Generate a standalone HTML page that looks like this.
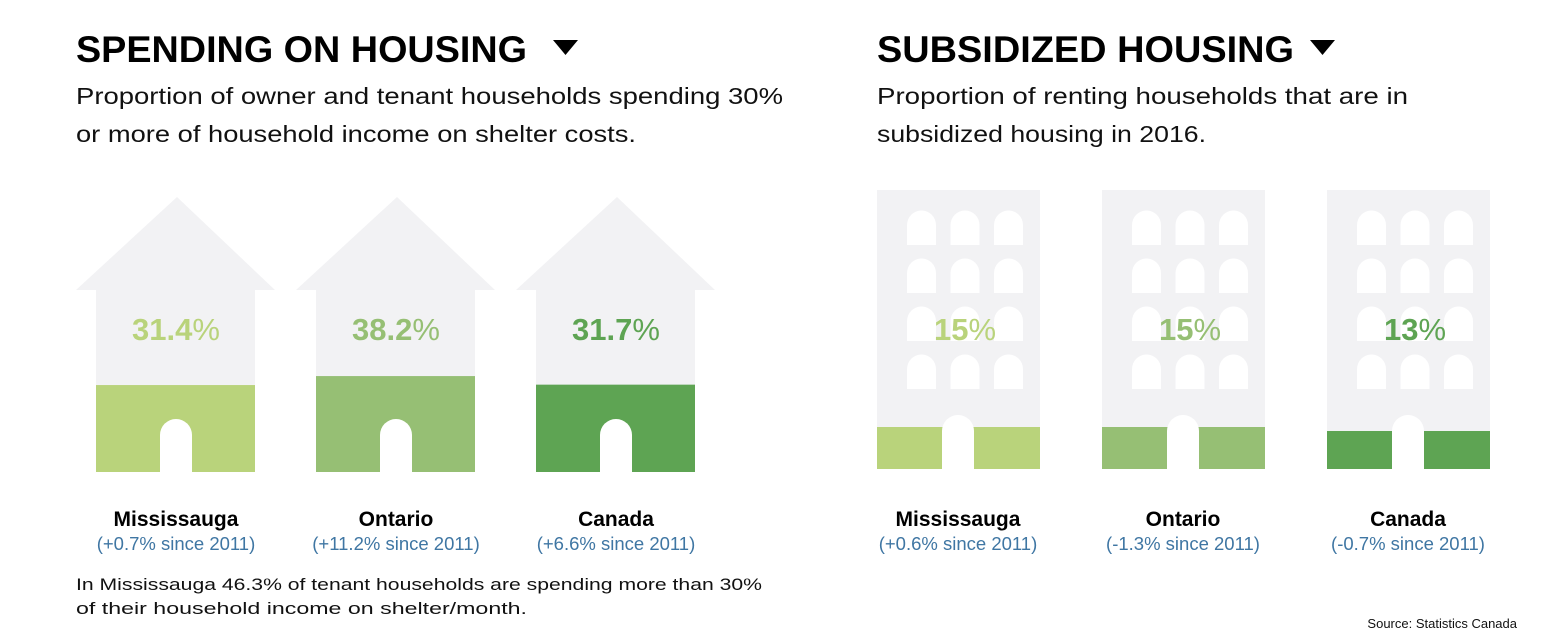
<!DOCTYPE html>
<html><head><meta charset="utf-8"><style>
html,body{margin:0;padding:0;background:#fff;width:1564px;height:630px;overflow:hidden}
svg{display:block;font-family:"Liberation Sans",sans-serif}
</style></head><body>
<svg id="c" width="1564" height="630" viewBox="0 0 1564 630">
<text x="76" y="62" font-size="37" font-weight="bold" textLength="451" lengthAdjust="spacingAndGlyphs" fill="#000">SPENDING ON HOUSING</text>
<polygon points="553,40 578,40 565.5,55" fill="#000"/>
<text x="76" y="104" font-size="23" textLength="707" lengthAdjust="spacingAndGlyphs" fill="#111">Proportion of owner and tenant households spending 30%</text>
<text x="76" y="142" font-size="23" textLength="560" lengthAdjust="spacingAndGlyphs" fill="#111">or more of household income on shelter costs.</text>
<text x="877" y="62" font-size="37" font-weight="bold" textLength="417" lengthAdjust="spacingAndGlyphs" fill="#000">SUBSIDIZED HOUSING</text>
<polygon points="1310,40 1335,40 1322.5,55" fill="#000"/>
<text x="877" y="104" font-size="23" textLength="531" lengthAdjust="spacingAndGlyphs" fill="#111">Proportion of renting households that are in</text>
<text x="877" y="142" font-size="23" textLength="329" lengthAdjust="spacingAndGlyphs" fill="#111">subsidized housing in 2016.</text>
<text x="76" y="590" font-size="17" textLength="686" lengthAdjust="spacingAndGlyphs" fill="#111">In Mississauga 46.3% of tenant households are spending more than 30%</text>
<text x="76" y="614" font-size="17" textLength="451" lengthAdjust="spacingAndGlyphs" fill="#111">of their household income on shelter/month.</text>
<text x="1517" y="628" font-size="13" text-anchor="end" fill="#111">Source: Statistics Canada</text>
</svg>
<script>
const regions = ["Mississauga","Ontario","Canada"];
const spendValues = [31.4, 38.2, 31.7];
const spendLabels = ["31.4","38.2","31.7"];
const spendChange = ["(+0.7% since 2011)","(+11.2% since 2011)","(+6.6% since 2011)"];
const subsValues = [15, 15, 13];
const subsLabels = ["15","15","13"];
const subsChange = ["(+0.6% since 2011)","(-1.3% since 2011)","(-0.7% since 2011)"];
const colors = ["#b9d37b","#96bf74","#5ea453"];

const NS="http://www.w3.org/2000/svg", svg=document.getElementById('c');
function el(t,a,txt){const e=document.createElementNS(NS,t);for(const k in a)e.setAttribute(k,a[k]);if(txt!==undefined)e.textContent=txt;svg.appendChild(e);return e;}
const GRAY="#f2f2f4", BLUE="#3f76a3";
function houseFill(v){return 45.5+1.32*v;}
function bldgFill(v){return 12+2*v;}

regions.forEach((r,i)=>{
  const x0=96+i*220, cx=x0+80, bottom=472;
  let e=el('polygon',{points:`${x0-20},290 ${cx+1},197 ${x0+179},290 ${x0+159},290 ${x0+159},${bottom} ${x0},${bottom} ${x0},290`,fill:GRAY});
  
  
  const h=houseFill(spendValues[i]);
  e=el('rect',{x:x0,y:bottom-h,width:159,height:h,fill:colors[i]});
  
  
  e=el('path',{d:`M${cx-16},${bottom} L${cx-16},${435} A16,16 0 0 1 ${cx+16},${435} L${cx+16},${bottom} Z`,fill:"#fff"});
  
  
  e=el('text',{x:cx,y:340,'font-size':31,'font-weight':'bold','text-anchor':'middle',fill:colors[i]});
  
  
  e.innerHTML=spendLabels[i]+'<tspan font-weight="normal">%</tspan>';
  e=el('text',{x:cx,y:526,'font-size':21,'font-weight':'bold','text-anchor':'middle',fill:'#000'},r);
  
  
  e=el('text',{x:cx,y:550,'font-size':18.5,'text-anchor':'middle',fill:BLUE},spendChange[i]);
  
  
});

regions.forEach((r,i)=>{
  const x0=877+i*225, cx=x0+81, top=190, bottom=469;
  let e=el('rect',{x:x0,y:top,width:163,height:bottom-top,fill:GRAY});
  
  
  for(let row=0;row<4;row++)for(let col=0;col<3;col++){
    const wx=x0+30+col*43.5, wy=211+row*48;
    e=el('path',{d:`M${wx},${wy+34} L${wx},${wy+14} A14.5,14.5 0 0 1 ${wx+29},${wy+14} L${wx+29},${wy+34} Z`,fill:"#fff"});
    
    
  }
  const h=bldgFill(subsValues[i]);
  e=el('rect',{x:x0,y:bottom-h,width:163,height:h,fill:colors[i]});
  
  
  e=el('path',{d:`M${cx-16},${bottom} L${cx-16},${431} A16,16 0 0 1 ${cx+16},${431} L${cx+16},${bottom} Z`,fill:"#fff"});
  
  
  e=el('text',{x:cx+7,y:340,'font-size':31,'font-weight':'bold','text-anchor':'middle',fill:colors[i]});
  
  
  e.innerHTML=subsLabels[i]+'<tspan font-weight="normal">%</tspan>';
  e=el('text',{x:cx,y:526,'font-size':21,'font-weight':'bold','text-anchor':'middle',fill:'#000'},r);
  
  
  e=el('text',{x:cx,y:550,'font-size':18.5,'text-anchor':'middle',fill:BLUE},subsChange[i]);
  
  
});
</script>
</body></html>
